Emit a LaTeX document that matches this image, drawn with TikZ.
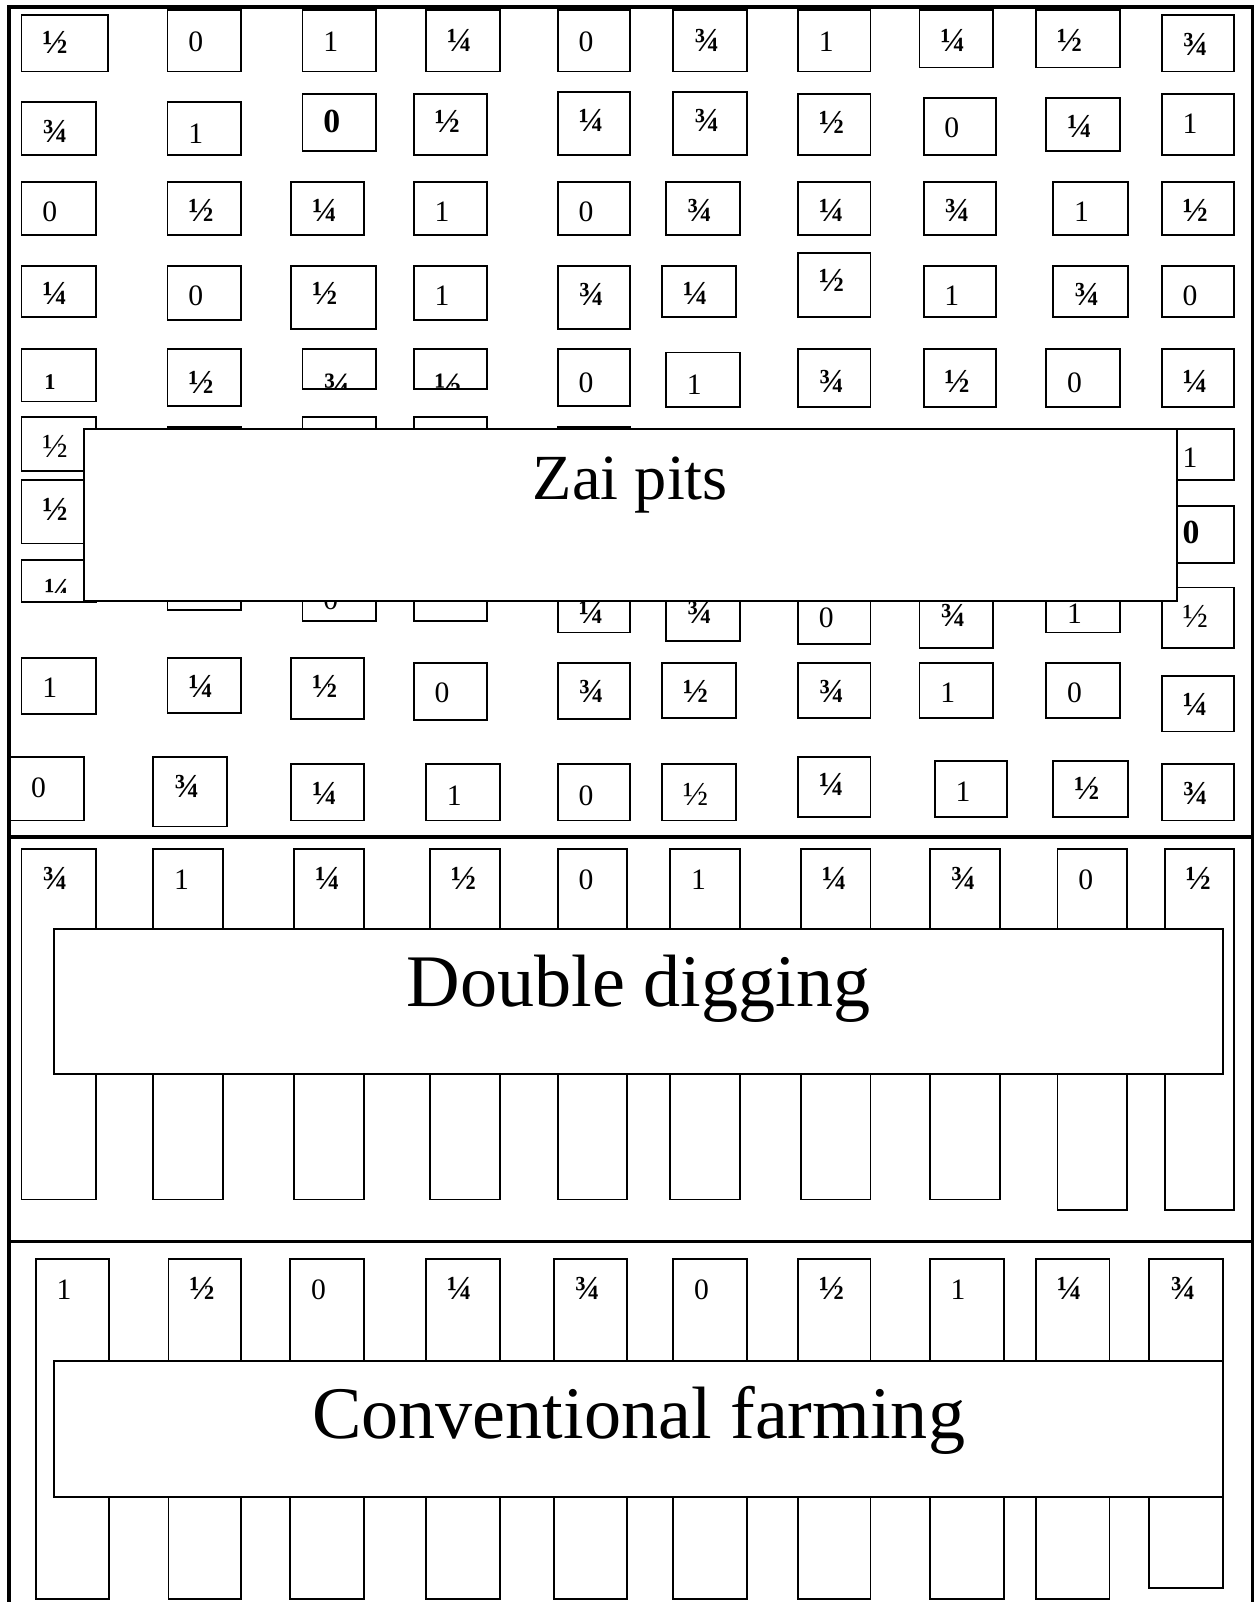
\documentclass[tikz,border=0pt]{standalone}
\usepackage{fontspec}
\setmainfont{Liberation Serif}
\newcounter{bx}
\tikzset{
  boxline/.style={line width=0.9pt, draw=black},
  frameline/.style={line width=1.7pt, draw=black},
  lr/.style={anchor=base west, inner sep=0pt, font=\fontsize{14.5}{17}\selectfont},
  lf/.style={anchor=base west, inner sep=0pt, font=\fontsize{16.5}{19}\selectfont},
  lb/.style={anchor=base west, inner sep=0pt, font=\fontsize{16.5}{19}\selectfont\bfseries},
  bigbox/.style={line width=0.9pt, draw=black, fill=white},
  bigtext/.style={anchor=base, inner sep=0pt, font=\fontsize{36.3}{40}\selectfont}
}
% l t r b text style baseline
\newcommand{\pb}[7]{%
  \stepcounter{bx}%
  \draw[boxline] (#1,#2) rectangle (#3,#4);
  \node[#6] (t\arabic{bx}) at (#1+20,#7) {#5};}
% hidden box, no text
\newcommand{\hb}[4]{\draw[boxline] (#1,#2) rectangle (#3,#4);}
% clipped box: l t r b text style baseline clipline xshift
\newcommand{\cb}[9]{%
  \stepcounter{bx}%
  \draw[boxline] (#1,#2) rectangle (#3,#4);
  \begin{scope}
    \clip (#1,#2) rectangle (#3,#8);
    \node[#6] (t\arabic{bx}) at (#1+#9,#7) {#5};
  \end{scope}}
\begin{document}
\begin{tikzpicture}[x=0.5pt,y=-0.5pt]
\useasboundingbox (0,0) rectangle (1230,1568);
% ---------- Section 1 : grid ----------
% row 1
\pb{21}{15}{106}{70}{½}{lb}{52}
\pb{164}{10}{236}{70}{0}{lr}{50}
\pb{296}{10}{368}{70}{1}{lr}{50}
\pb{417}{10}{489}{70}{¼}{lb}{50}
\pb{546}{10}{617}{70}{0}{lr}{50}
\pb{659}{10}{731}{70}{¾}{lb}{50}
\pb{781}{10}{852}{70}{1}{lr}{50}
\pb{900}{10}{972}{66}{¼}{lb}{50}
\pb{1014}{10}{1096}{66}{½}{lb}{50}
\pb{1137}{15}{1208}{70}{¾}{lb}{54}
% row 2
\pb{21}{100}{94}{152}{¾}{lb}{139}
\pb{164}{100}{236}{152}{1}{lr}{140}
\pb{296}{92}{368}{148}{0}{lb}{130}
\pb{405}{92}{477}{152}{½}{lb}{130}
\pb{546}{90}{617}{152}{¼}{lb}{129}
\pb{659}{90}{731}{152}{¾}{lb}{129}
\pb{781}{92}{852}{152}{½}{lb}{131}
\pb{904}{96}{975}{152}{0}{lr}{135}
\pb{1024}{96}{1096}{148}{¼}{lb}{135}
\pb{1137}{92}{1208}{152}{1}{lr}{131}
% row 3
\pb{21}{178}{94}{230}{0}{lr}{217}
\pb{164}{178}{236}{230}{½}{lb}{217}
\pb{285}{178}{356}{230}{¼}{lb}{217}
\pb{405}{178}{477}{230}{1}{lr}{217}
\pb{546}{178}{617}{230}{0}{lr}{217}
\pb{652}{178}{724}{230}{¾}{lb}{217}
\pb{781}{178}{852}{230}{¼}{lb}{217}
\pb{904}{178}{975}{230}{¾}{lb}{217}
\pb{1031}{178}{1104}{230}{1}{lr}{217}
\pb{1137}{178}{1208}{230}{½}{lb}{217}
% row 4
\pb{21}{260}{94}{310}{¼}{lb}{298}
\pb{164}{260}{236}{313}{0}{lr}{299}
\pb{285}{260}{368}{322}{½}{lb}{298}
\pb{405}{260}{477}{313}{1}{lr}{299}
\pb{546}{260}{617}{322}{¾}{lb}{299}
\pb{648}{260}{720}{310}{¼}{lb}{298}
\pb{781}{248}{852}{310}{½}{lb}{285}
\pb{904}{260}{975}{310}{1}{lr}{299}
\pb{1031}{260}{1104}{310}{¾}{lb}{299}
\pb{1137}{260}{1208}{310}{0}{lr}{299}
% row 5
\cb{21}{342}{94}{393}{1}{anchor=base west, inner sep=0pt, font=\fontsize{11}{13}\selectfont\bfseries}{381}{381}{22}
\pb{164}{342}{236}{397}{½}{lb}{385}
\cb{296}{342}{368}{381}{¾}{anchor=base west, inner sep=0pt, font=\fontsize{17.5}{20}\selectfont\bfseries}{389}{381}{20}
\cb{405}{342}{477}{381}{½}{anchor=base west, inner sep=0pt, font=\fontsize{17.5}{20}\selectfont\bfseries}{389}{381}{20}
\pb{546}{342}{617}{397}{0}{lr}{384}
\pb{652}{345}{724}{398}{1}{lr}{386}
\pb{781}{342}{852}{398}{¾}{lb}{384}
\pb{904}{342}{975}{398}{½}{lb}{384}
\pb{1024}{342}{1096}{398}{0}{lr}{384}
\pb{1137}{342}{1208}{398}{¼}{lb}{384}
% row 6
\pb{21}{408}{94}{461}{½}{lf}{448}
\hb{164}{418}{236}{470}
\hb{296}{408}{368}{470}
\hb{405}{408}{477}{470}
\hb{546}{418}{617}{470}
\pb{1137}{420}{1208}{470}{1}{lr}{458}
% row 7
\pb{21}{470}{94}{532}{½}{lb}{509}
\pb{1137}{495}{1208}{551}{0}{lb}{532}
% row 8
\cb{21}{548}{94}{589}{¼}{lb}{589}{580}{22}
\hb{164}{560}{236}{597}
\pb{296}{560}{368}{608}{0}{lr}{597}
\hb{405}{560}{477}{608}
\pb{546}{560}{617}{619}{¼}{lb}{610}
\pb{652}{560}{724}{627}{¾}{lb}{610}
\pb{781}{560}{852}{630}{0}{lr}{614}
\pb{900}{560}{972}{634}{¾}{lb}{613}
\pb{1024}{560}{1096}{619}{1}{lr}{610}
\pb{1137}{575}{1208}{634}{½}{lf}{614}
% row 9
\pb{21}{644}{94}{699}{1}{lr}{683}
\pb{164}{644}{236}{698}{¼}{lb}{683}
\pb{285}{644}{356}{704}{½}{lb}{683}
\pb{405}{649}{477}{705}{0}{lr}{688}
\pb{546}{649}{617}{704}{¾}{lb}{688}
\pb{648}{649}{720}{703}{½}{lb}{688}
\pb{781}{649}{852}{703}{¾}{lb}{688}
\pb{900}{649}{972}{703}{1}{lr}{688}
\pb{1024}{649}{1096}{703}{0}{lr}{688}
\pb{1137}{662}{1208}{716}{¼}{lb}{700}
% row 10
\pb{10}{741}{82}{803}{0}{lr}{781}
\pb{150}{741}{222}{809}{¾}{lb}{781}
\pb{285}{748}{356}{803}{¼}{lb}{787}
\pb{417}{748}{489}{803}{1}{lr}{788}
\pb{546}{748}{617}{803}{0}{lr}{788}
\pb{648}{748}{720}{803}{½}{lf}{788}
\pb{781}{741}{852}{800}{¼}{lb}{779}
\pb{915}{745}{986}{800}{1}{lr}{784}
\pb{1031}{745}{1104}{800}{½}{lb}{783}
\pb{1137}{748}{1208}{803}{¾}{lb}{787}
% Zai pits box
\draw[bigbox] (82,420) rectangle (1152,588);
\node[bigtext, font=\fontsize{31.5}{36}\selectfont] (zai) at (617,489) {Zai pits};
% ---------- Section 2 : double digging ----------
\pb{21}{831}{94}{1174}{¾}{lb}{871}
\pb{150}{831}{218}{1174}{1}{lr}{871}
\pb{288}{831}{356}{1174}{¼}{lb}{871}
\pb{421}{831}{489}{1174}{½}{lb}{871}
\pb{546}{831}{614}{1174}{0}{lr}{871}
\pb{656}{831}{724}{1174}{1}{lr}{871}
\pb{784}{831}{852}{1174}{¼}{lb}{871}
\pb{910}{831}{979}{1174}{¾}{lb}{871}
\pb{1035}{831}{1103}{1184}{0}{lr}{871}
\pb{1140}{831}{1208}{1184}{½}{lb}{871}
\draw[bigbox] (53,909) rectangle (1197,1051);
\node[bigtext] (dd) at (625,985) {Double digging};
% ---------- Section 3 : conventional farming ----------
\pb{35}{1232}{107}{1565}{1}{lr}{1272}
\pb{165}{1232}{236}{1565}{½}{lb}{1272}
\pb{284}{1232}{356}{1565}{0}{lr}{1272}
\pb{417}{1232}{489}{1565}{¼}{lb}{1272}
\pb{542}{1232}{614}{1565}{¾}{lb}{1272}
\pb{659}{1232}{731}{1565}{0}{lr}{1272}
\pb{781}{1232}{852}{1565}{½}{lb}{1272}
\pb{910}{1232}{983}{1565}{1}{lr}{1272}
\pb{1014}{1232}{1086}{1565}{¼}{lb}{1272}
\pb{1125}{1232}{1197}{1554}{¾}{lb}{1272}
\draw[bigbox] (53,1332) rectangle (1197,1465);
\node[bigtext] (cf) at (625,1408) {Conventional farming};
% ---------- frame ----------
\draw[frameline] (9,1568) -- (9,7) -- (1226,7) -- (1226,1568);
\draw[frameline] (9,819) -- (1226,819);
\draw[frameline] (9,1215) -- (1226,1215);
\end{tikzpicture}
\end{document}
